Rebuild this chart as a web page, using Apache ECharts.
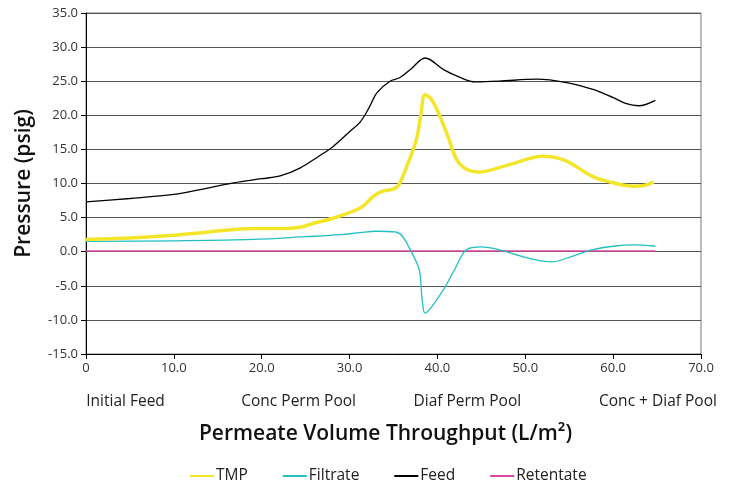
<!DOCTYPE html>
<html>
<head>
<meta charset="utf-8">
<script src="https://cdn.jsdelivr.net/npm/echarts@6/dist/echarts.min.js"></script>
<style>html,body{margin:0;padding:0;background:#fff}#c{width:739px;height:490px}</style>
</head>
<body>
<div id="c"></div>
<script>
const seriesNames = ['TMP', 'Filtrate', 'Feed', 'Retentate'];
const stageLabels = ['Initial Feed', 'Conc Perm Pool', 'Diaf Perm Pool', 'Conc + Diaf Pool'];
const stageCenters = [4.5, 24.2, 43.4, 65.1];
const xTitle = 'Permeate Volume Throughput (L/m²)';
const yTitle = 'Pressure (psig)';

const tmpData = [[0,1.8],[5,2.0],[10,2.4],[14,2.9],[19,3.4],[22,3.4],[24.4,3.6],[26,4.2],[28.1,4.9],[31.2,6.4],[32.7,8.1],[33.6,8.8],[35,9.2],[35.6,9.8],[36.6,12.8],[37.6,16.4],[38.1,20.0],[38.6,23.0],[39.3,22.4],[40.3,19.8],[41.3,16.5],[42.2,13.5],[43.3,12.1],[44.8,11.7],[48,12.7],[52,14.0],[54.5,13.4],[57.7,11.0],[60,10.1],[62.3,9.6],[63.5,9.7],[64.6,10.2]];
const filtrateData = [[0,1.5],[10,1.6],[19,1.8],[25,2.2],[29,2.5],[31.2,2.8],[33,3.0],[35.2,2.9],[36,2.3],[36.9,0.3],[37.6,-1.5],[38,-3.1],[38.3,-7.5],[38.6,-9.0],[39.5,-7.8],[40.9,-5.1],[42,-2.5],[43.3,0.3],[45,0.7],[47,0.3],[50.2,-0.9],[53,-1.5],[55.5,-0.6],[57.7,0.3],[60,0.8],[62.3,1.0],[64.8,0.8]];
const feedData = [[0,7.3],[5,7.8],[10,8.4],[13,9.1],[16.8,10.1],[20,10.7],[22.1,11.1],[24.4,12.3],[26.5,14.0],[28.1,15.4],[30,17.6],[31.2,19.0],[32.3,21.3],[33.1,23.3],[34.6,25.0],[35.7,25.5],[37,26.8],[38.6,28.4],[40.7,26.7],[42.5,25.6],[44.3,24.9],[47,25.0],[51.3,25.3],[54.7,24.8],[57.7,23.8],[60,22.6],[61.5,21.7],[62.9,21.4],[64.8,22.2]];
const retentateData = [[0,0.1],[20,0.1],[40,0.1],[64.8,0.1]];

const colors = ['#f3e52a', '#1fbfc2', '#000000', '#d9489e'];
const widths = [3.5, 1.3, 1.3, 1.6];
const font = 'Open Sans';

const chart = echarts.init(document.getElementById('c'));
const allData = [tmpData, filtrateData, feedData, retentateData];
chart.setOption({
  animation: false,
  textStyle: { fontFamily: font },
  grid: { left: 86, right: 38, top: 13, bottom: 136, show: true, borderColor: '#777', borderWidth: 1 },
  legend: {
    bottom: 1, left: 184, itemWidth: 24, itemHeight: 14, itemGap: 34,
    itemStyle: { opacity: 0 },
    textStyle: { fontSize: 15.5, color: '#222', fontFamily: font, padding: [0, 0, 0, -3] },
    data: seriesNames
  },
  xAxis: {
    type: 'value', min: 0, max: 70, interval: 10,
    name: xTitle, nameLocation: 'middle', nameGap: 70,
    nameTextStyle: { fontSize: 21, fontWeight: 600, color: '#111', fontFamily: font, padding: [0, 16, 0, 0] },
    axisLine: { onZero: false, lineStyle: { color: '#000', width: 1 } },
    axisTick: { show: true, length: 5, lineStyle: { color: '#000' } },
    axisLabel: { fontSize: 13, color: '#333', margin: 8, formatter: v => v === 0 ? '0' : v.toFixed(1) },
    splitLine: { show: false }
  },
  yAxis: {
    type: 'value', min: -15, max: 35, interval: 5,
    name: yTitle, nameLocation: 'middle', nameGap: 51,
    nameTextStyle: { fontSize: 21, fontWeight: 600, color: '#111', fontFamily: font },
    axisLine: { show: true, onZero: false, lineStyle: { color: '#000', width: 1 } },
    axisTick: { show: true, length: 5, lineStyle: { color: '#000' } },
    axisLabel: { fontSize: 13, color: '#333', margin: 8, formatter: v => v.toFixed(1) },
    splitLine: { show: true, lineStyle: { color: '#555', width: 1.2 } }
  },
  graphic: stageLabels.map((t, i) => ({
    type: 'text',
    x: 86 + stageCenters[i] * 615 / 70, y: 402,
    style: { text: t, fontSize: 15.5, fill: '#222', fontFamily: font, align: 'center', verticalAlign: 'middle' }
  })),
  series: seriesNames.map((n, i) => ({
    name: n, type: 'line', data: allData[i], smooth: 0.35, symbol: 'none', z: 10 - i,
    lineStyle: { color: colors[i], width: widths[i] }, itemStyle: { color: colors[i] }
  }))
});
</script>
</body>
</html>
